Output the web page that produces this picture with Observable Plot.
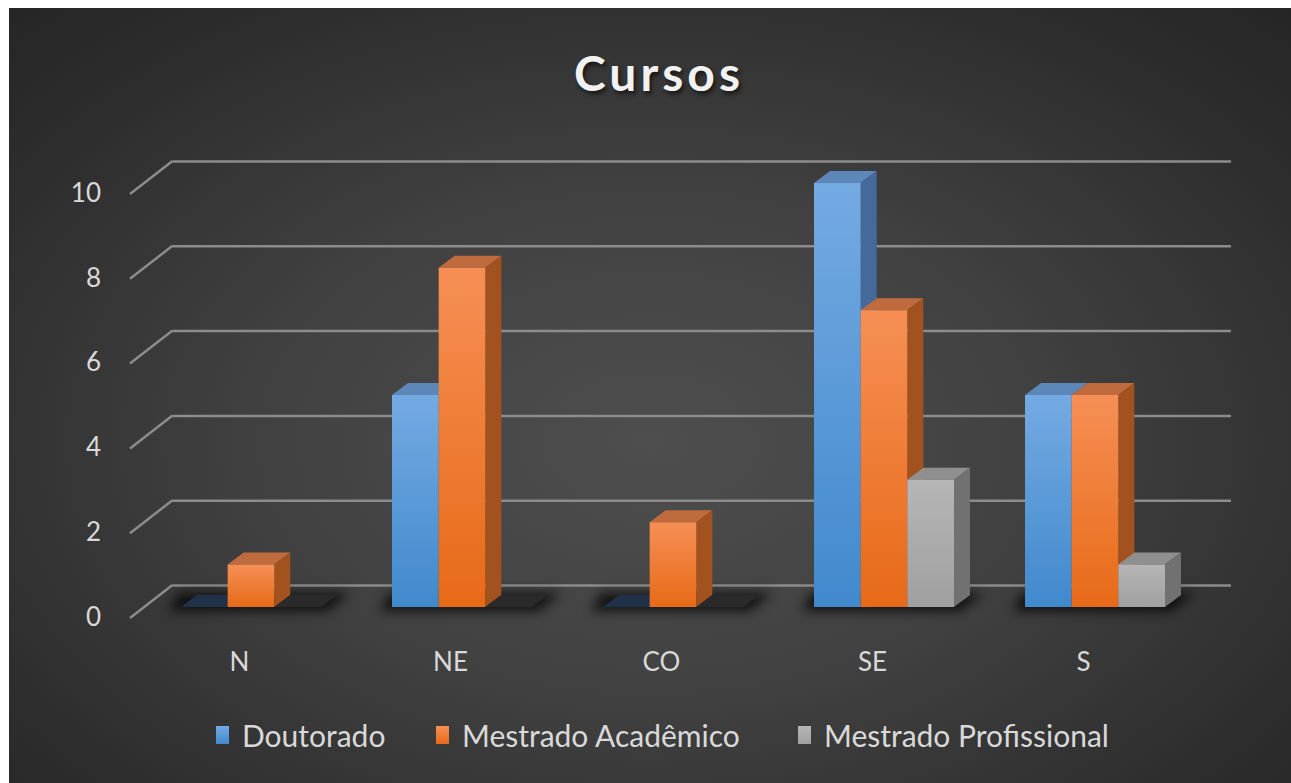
<!DOCTYPE html>
<html>
<head>
<meta charset="utf-8">
<script src="https://cdn.jsdelivr.net/npm/d3@7"></script>
<script src="https://cdn.jsdelivr.net/npm/@observablehq/plot@0.6"></script>
<style>
  html, body { margin: 0; padding: 0; background: #ffffff; width: 1291px; height: 783px; overflow: hidden; }
  #frame {
    position: absolute; left: 9px; top: 8px; width: 1282px; height: 775px;
    background: radial-gradient(ellipse 75% 80% at 50% 56%, #4e4e4e 0%, #414141 40%, #2c2c2c 80%, #242424 100%);
    font-family: Lato, "Open Sans", sans-serif;
  }
  #title {
    position: absolute; left: 0; top: 0; width: 1282px; height: 122px;
    text-align: center; padding-left: 18px; box-sizing: border-box;
    font-size: 48px; font-weight: 700; letter-spacing: 4px; color: #f2f2f2;
    line-height: 130px; text-shadow: 2px 3px 4px rgba(0,0,0,0.6);
  }
  #chart { position: absolute; left: 0; top: 122px; }
  #legend { position: absolute; left: 0; top: 692px; width: 1282px; height: 83px; }
  .item { position: absolute; top: 17px; display: flex; align-items: center; color: #d9d9d9; font-size: 30px; }
  .sw { width: 13px; height: 18px; margin-right: 13px; }
</style>
</head>
<body>
<div id="frame">
  <div id="title">Cursos</div>
  <div id="chart"></div>
  <div id="legend"></div>
</div>
<script>
const regions = ["N", "NE", "CO", "SE", "S"];
const series = ["Doutorado", "Mestrado Acadêmico", "Mestrado Profissional"];
const doutorado = [0, 5, 0, 10, 5];
const mestradoAcademico = [1, 8, 2, 7, 5];
const mestradoProfissional = [0, 0, 0, 3, 1];
const yTicks = [0, 2, 4, 6, 8, 10];

const seriesValues = [doutorado, mestradoAcademico, mestradoProfissional];
const data = [];
regions.forEach((r, i) => series.forEach((s, j) => data.push({region: r, series: s, si: j, value: seriesValues[j][i]})));

const look = [
  {front: ["#74aae2", "#4189cd"], side: "#45699a", top: "#5c87b8", zero: "#1f3248", legend: "#5b9bd5"},
  {front: ["#f68f55", "#e76a17"], side: "#a2521f", top: "#c06b3d", zero: "#2a2a2a", legend: "#ed7d31"},
  {front: ["#b6b6b6", "#a0a0a0"], side: "#717171", top: "#8f8f8f", zero: "#2a2a2a", legend: "#a5a5a5"}
];

const DX = 16, DY = -12;

function bandOf(scale) {
  const b = scale.bandwidth;
  return typeof b === "function" ? b() : b;
}

function bars3d(index, scales, values, dimensions, context) {
  const ns = "http://www.w3.org/2000/svg";
  const doc = context.document;
  const g = doc.createElementNS(ns, "g");
  const defs = doc.createElementNS(ns, "defs");
  g.appendChild(defs);
  look.forEach((l, j) => {
    const lg = doc.createElementNS(ns, "linearGradient");
    lg.setAttribute("id", "grad" + j);
    lg.setAttribute("x1", "0"); lg.setAttribute("y1", "0"); lg.setAttribute("x2", "0"); lg.setAttribute("y2", "1");
    l.front.forEach((c, k) => {
      const st = doc.createElementNS(ns, "stop");
      st.setAttribute("offset", k ? "1" : "0");
      st.setAttribute("stop-color", c);
      lg.appendChild(st);
    });
    defs.appendChild(lg);
  });
  const flt = doc.createElementNS(ns, "filter");
  flt.setAttribute("id", "shadowBlur");
  flt.setAttribute("x", "-20%"); flt.setAttribute("y", "-100%"); flt.setAttribute("width", "140%"); flt.setAttribute("height", "300%");
  const gb = doc.createElementNS(ns, "feGaussianBlur");
  gb.setAttribute("stdDeviation", "6");
  flt.appendChild(gb);
  defs.appendChild(flt);

  const bw = bandOf(scales.x);
  const slot = bw / 3;
  const poly = (pts, fill, extra) => {
    const p = doc.createElementNS(ns, "polygon");
    p.setAttribute("points", pts.map(d => d.join(",")).join(" "));
    p.setAttribute("fill", fill);
    if (extra) for (const k in extra) p.setAttribute(k, extra[k]);
    g.appendChild(p);
  };
  // floor shadows per group
  for (const r of regions) {
    const gx = scales.x(r);
    const base = scales.y(0);
    poly([[gx - 12, base + 4], [gx + bw + 6, base + 4], [gx + bw + DX + 14, base + DY - 2], [gx - 2, base + DY - 2]],
      "#000", {filter: "url(#shadowBlur)", opacity: "0.75"});
  }
  for (const i of index) {
    const d = data[i];
    const x0 = scales.x(d.region) + d.si * slot;
    const x1 = x0 + slot;
    const yb = scales.y(0);
    const yt = scales.y(d.value);
    const l = look[d.si];
    if (d.value === 0) {
      poly([[x0, yb], [x1, yb], [x1 + DX, yb + DY], [x0 + DX, yb + DY]], l.zero);
      continue;
    }
    poly([[x0, yt], [x1, yt], [x1 + DX, yt + DY], [x0 + DX, yt + DY]], l.top);
    poly([[x1, yt], [x1 + DX, yt + DY], [x1 + DX, yb + DY], [x1, yb]], l.side);
    poly([[x0, yt], [x1, yt], [x1, yb], [x0, yb]], `url(#grad${d.si})`);
  }
  return g;
}

function wallDiagonals(index, scales, values, dimensions, context) {
  const ns = "http://www.w3.org/2000/svg";
  const g = context.document.createElementNS(ns, "g");
  for (const i of index) {
    const y = scales.y(yTicks[i]);
    const line = context.document.createElementNS(ns, "line");
    line.setAttribute("x1", 121); line.setAttribute("y1", y + 11);
    line.setAttribute("x2", 163.5); line.setAttribute("y2", y - 22);
    line.setAttribute("stroke", "#8c8c8c");
    line.setAttribute("stroke-width", 2.5);
    g.appendChild(line);
  }
  return g;
}

const chart = Plot.plot({
  width: 1282,
  height: 570,
  marginTop: 53,
  marginBottom: 93,
  marginLeft: 98.5,
  marginRight: 52.5,
  style: {background: "transparent", color: "#d9d9d9", fontFamily: "Lato, 'Open Sans', sans-serif", overflow: "visible"},
  x: {domain: regions, padding: 0.335, label: null},
  y: {domain: [0, 10], label: null},
  marks: [
    Plot.ruleY(yTicks, {stroke: "#8c8c8c", strokeWidth: 2.5, dy: -22, insetLeft: 65, insetRight: 7.5}),
    Plot.ruleY(yTicks, {render: wallDiagonals}),
    Plot.axisY(yTicks, {tickSize: 0, tickPadding: 7, dy: 10, fontSize: 26, fill: "#d9d9d9"}),
    Plot.axisX({tickSize: 0, tickPadding: 45, dx: -12, fontSize: 26, fill: "#d9d9d9"}),
    Plot.barY(data, {x: "region", y1: () => 0, y2: "value", render: bars3d})
  ]
});
document.getElementById("chart").appendChild(chart);

const legend = document.getElementById("legend");
const lefts = [207, 427, 789];
series.forEach((s, j) => {
  const it = document.createElement("div");
  it.className = "item";
  it.style.left = lefts[j] + "px";
  const sw = document.createElement("div");
  sw.className = "sw";
  sw.style.background = `linear-gradient(${look[j].front[0]}, ${look[j].front[1]})`;
  const tx = document.createElement("span");
  tx.textContent = s;
  it.appendChild(sw); it.appendChild(tx);
  legend.appendChild(it);
});
</script>
</body>
</html>
